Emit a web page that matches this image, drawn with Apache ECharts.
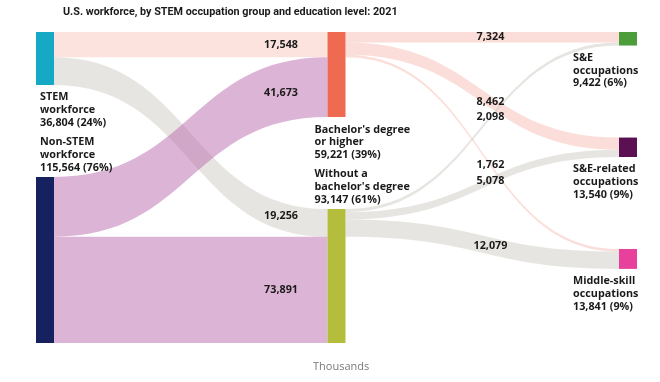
<!DOCTYPE html>
<html><head><meta charset="utf-8">
<script src="https://cdn.jsdelivr.net/npm/echarts@6/dist/echarts.min.js"></script>
<style>html,body{margin:0;padding:0;background:#fff}#c{width:660px;height:382px}</style>
</head><body><div id="c"></div>
<script>
// ---- data ----
const nodeNames = ['STEM workforce', 'Non-STEM workforce', "Bachelor's degree or higher", "Without a bachelor's degree", 'S&E occupations', 'S&E-related occupations', 'Middle-skill occupations'];
const nodeLabelText = ['STEM\nworkforce', 'Non-STEM\nworkforce', "Bachelor's degree\nor higher", "Without a\nbachelor's degree", 'S&E\noccupations', 'S&E-related\noccupations', 'Middle-skill\noccupations'];
const linkSources = ['STEM workforce', 'STEM workforce', 'Non-STEM workforce', 'Non-STEM workforce',
  "Bachelor's degree or higher", "Bachelor's degree or higher", "Bachelor's degree or higher",
  "Without a bachelor's degree", "Without a bachelor's degree", "Without a bachelor's degree"];
const linkTargets = ["Bachelor's degree or higher", "Without a bachelor's degree", "Bachelor's degree or higher", "Without a bachelor's degree",
  'S&E occupations', 'S&E-related occupations', 'Middle-skill occupations',
  'S&E occupations', 'S&E-related occupations', 'Middle-skill occupations'];
const linkValues = [17548, 19256, 41673, 73891, 7324, 8462, 1762, 2098, 5078, 12079];
const unitLabel = 'Thousands';
const titleText = 'U.S. workforce, by STEM occupation group and education level: 2021';

// ---- styles ----
const nodeColors = ['#15a9c5', '#16215f', '#ee6b52', '#b4bd3c', '#4d9e3b', '#5a1052', '#e8419b'];
const nodeLabelBelow = [true, false, true, false, true, true, true];
const nodeLabelDx = [4, 4, -13, -13, -46, -46, -46];
const linkColors = ['rgba(250,200,190,0.5)', 'rgba(208,204,196,0.5)', 'rgba(185,105,173,0.5)', 'rgba(185,105,173,0.5)',
  'rgba(248,190,180,0.5)', 'rgba(248,190,180,0.5)', 'rgba(248,190,180,0.5)',
  'rgba(208,204,196,0.5)', 'rgba(208,204,196,0.5)', 'rgba(208,204,196,0.5)'];

const fmt = v => v.toLocaleString('en-US');
function nodeValue(name) {
  let inS = 0, outS = 0;
  linkValues.forEach((v, i) => { if (linkTargets[i] === name) inS += v; if (linkSources[i] === name) outS += v; });
  return Math.max(inS, outS);
}
const total = nodeValue(nodeNames[0]) + nodeValue(nodeNames[1]);

const nodes = nodeNames.map((n, i) => {
  const v = nodeValue(n);
  const below = nodeLabelBelow[i];
  return {
    name: n,
    itemStyle: { color: nodeColors[i], opacity: 1 },
    label: {
      show: true,
      position: below ? [0, '100%'] : [0, 0],
      align: 'left',
      verticalAlign: below ? 'top' : 'bottom',
      offset: [nodeLabelDx[i], below ? 6 : -3],
      formatter: nodeLabelText[i] + '\n' + fmt(v) + ' (' + Math.round(v / total * 100) + '%)'
    }
  };
});
const links = linkValues.map((v, i) => ({
  source: linkSources[i], target: linkTargets[i], value: v,
  lineStyle: { color: linkColors[i], opacity: 1 }
}));

const chart = echarts.init(document.getElementById('c'), null, { renderer: 'canvas' });
const option = {
  animation: false,
  backgroundColor: '#fff',
  title: [
    { text: titleText, left: 58, top: 2, textStyle: { fontFamily: 'Roboto', fontWeight: 'bold', fontSize: 10.8, color: '#1a1a1a' } },
    { text: unitLabel, left: 308, top: 356, textStyle: { fontFamily: 'Open Sans', fontWeight: 'normal', fontSize: 11, color: '#7a7a7a' } }
  ],
  series: [{
    type: 'sankey',
    left: 36, right: 23, top: 32, bottom: 39,
    nodeWidth: 18,
    nodeGap: 92,
    layoutIterations: 0,
    draggable: false,
    emphasis: { disabled: true },
    data: nodes,
    links: links,
    label: { fontFamily: 'Open Sans', fontWeight: 'bold', fontSize: 10.8, lineHeight: 12.7, color: '#1a1a1a' },
    lineStyle: { curveness: 0.5 }
  }]
};
chart.setOption(option);

// ---- link value labels placed on the library's computed link layout ----
const sm = chart.getModel().getSeriesByIndex(0);
const graph = sm.getGraph();
const li = sm.layoutInfo;
const texts = [];
graph.edges.forEach(function (edge) {
  const n1 = edge.node1.getLayout(), n2 = edge.node2.getLayout(), el = edge.getLayout();
  const x1 = n1.x + n1.dx, x2 = n2.x;
  const y1 = n1.y + el.sy + el.dy / 2, y2 = n2.y + el.ty + el.dy / 2;
  const firstStage = edge.node1.dataIndex < 2;
  const frac = firstStage ? 0.83 : 0.53;
  const xt = x1 + (x2 - x1) * frac;
  const cx = x1 + (x2 - x1) * 0.5;
  const bx = t => (1 - t) ** 3 * x1 + 3 * (1 - t) ** 2 * t * cx + 3 * (1 - t) * t * t * cx + t ** 3 * x2;
  let lo = 0, hi = 1;
  for (let k = 0; k < 40; k++) { const m = (lo + hi) / 2; if (bx(m) < xt) lo = m; else hi = m; }
  const t = (lo + hi) / 2;
  const yy = (1 - t) ** 3 * y1 + 3 * (1 - t) ** 2 * t * y1 + 3 * (1 - t) * t * t * y2 + t ** 3 * y2;
  texts.push({
    type: 'text', x: li.x + xt, y: li.y + yy, silent: true, z: 100,
    style: { text: fmt(edge.getValue()), fill: '#1a1a1a', font: 'bold 10.8px "Open Sans"', textAlign: 'center', textVerticalAlign: 'middle' }
  });
});
chart.setOption({ graphic: texts });
</script>
</body></html>
